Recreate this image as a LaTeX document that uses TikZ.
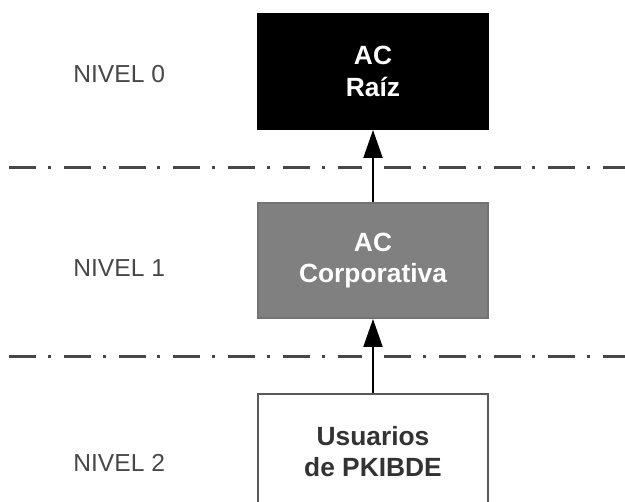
\documentclass[tikz,border=0pt]{standalone}
\usepackage{fontspec}
\setmainfont{Liberation Sans}
\usetikzlibrary{arrows.meta}

\begin{document}
\begin{tikzpicture}[x=0.02cm, y=-0.02cm,
  caja/.style={rectangle, minimum width=4.6cm, minimum height=2.3cm, align=center,
    font=\fontsize{15}{18}\selectfont\bfseries, line width=1.1pt},
  nivel/.style={anchor=west, inner sep=0pt, text=black!72, font=\fontsize{14}{18}\selectfont},
  limite/.style={line width=2pt, black!72, dash pattern=on 15.3pt off 6.8pt on 1.7pt off 7.4pt},
  flecha/.style={line width=1.1pt, -{Triangle[width=10.8pt, length=15.9pt]}}]
\useasboundingbox (0,0) rectangle (625,502);
\clip (0,0) rectangle (625,502);
%% cajas
\node[caja, draw=black, fill=black, text=white] (raiz) at (373,71.5) {AC\\Raíz};
\node[caja, draw=black!55, fill=black!50, text=white] (corp) at (373,260.5) {AC\\Corporativa};
\node[caja, draw=black!65, fill=white, text=black!80] (usr) at (373,451.5) {Usuarios\\de PKIBDE};
%% niveles
\node[nivel] (n0) at (73,74) {NIVEL 0};
\node[nivel] (n1) at (73,268) {NIVEL 1};
\node[nivel] (n2) at (73,463) {NIVEL 2};
%% separadores, cortados junto a la flecha
\draw[limite] (9,167.5) -- (362,167.5);
\draw[limite] (384,167.5) -- (625,167.5);
\draw[limite] (9,356.5) -- (362,356.5);
\draw[limite] (384,356.5) -- (625,356.5);
%% flechas
\draw[flecha] (corp.north) -- (raiz.south);
\draw[flecha] (usr.north) -- (corp.south);
\end{tikzpicture}
\end{document}
